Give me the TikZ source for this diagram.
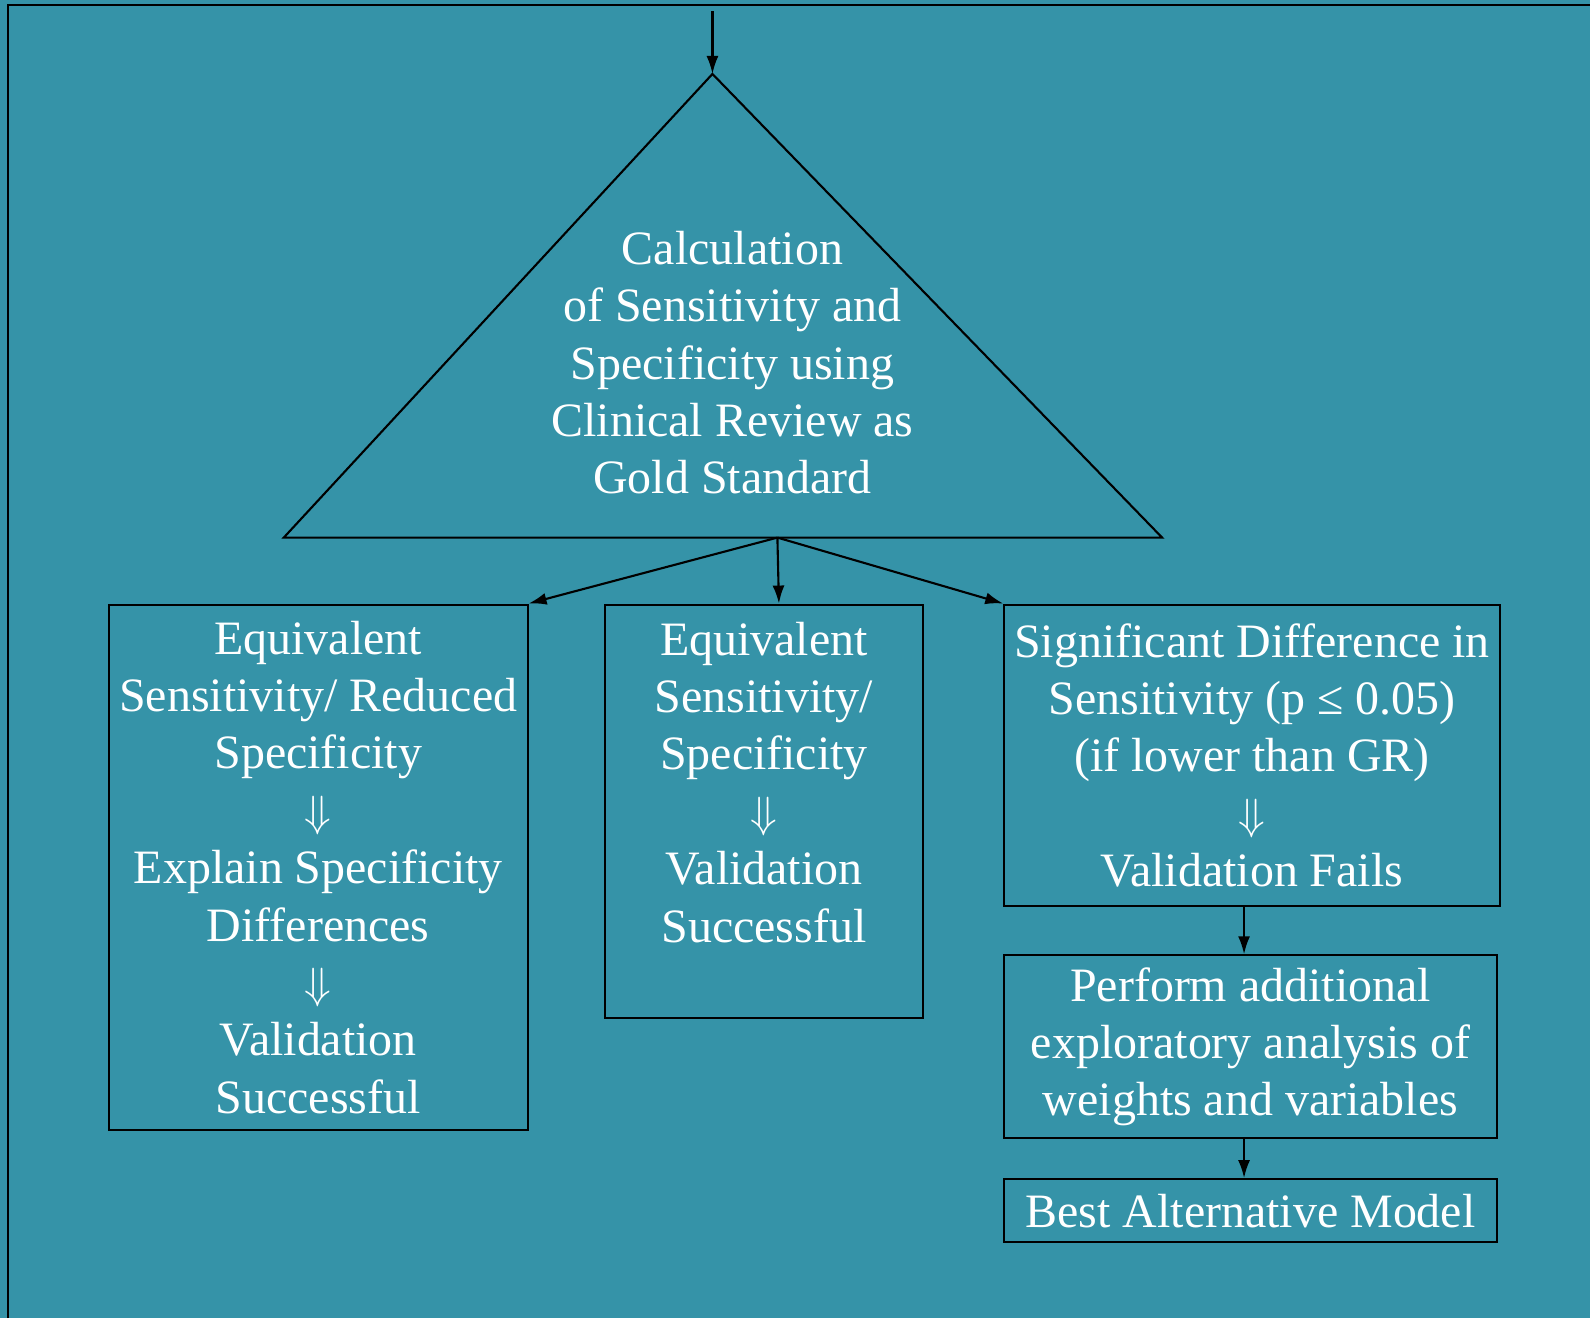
\documentclass[tikz,border=0pt]{standalone}
\usepackage{fontspec}
\setmainfont{Liberation Serif}
\usetikzlibrary{arrows.meta}
\definecolor{tealbg}{RGB}{53,147,168}

\begin{document}
\begin{tikzpicture}[x=0.02cm,y=-0.02cm,
  txt/.style={text=white,align=center,inner sep=0pt,
    font=\fontsize{27.3}{32.7}\selectfont},
  outcome/.style={txt,draw=black,line width=1.2pt,anchor=north west},
  arr/.style={-{Latex[length=0.36cm,width=0.24cm]},line width=1.2pt}]
% background and frame
\fill[tealbg] (0,0) rectangle (1591,1319);
\draw[line width=1.4pt] (8,1319) -- (8,5) -- (1591,5);

% Triangle: calculation step
\coordinate (entry) at (713,11);
\coordinate (apex) at (713,74);
\coordinate (baseL) at (284,538);
\coordinate (baseR) at (1163,538);
\coordinate (split) at (778,538);
\draw[line width=1.2pt,line join=miter] (apex) -- (baseR) -- (baseL) -- cycle;
\node[txt] (calc) at (733,363) {Calculation\\of Sensitivity and\\Specificity using\\Clinical Review as\\Gold Standard};
\draw[arr] (entry) -- (apex);

% Outcome boxes
\node[outcome,minimum width=8.38cm,minimum height=10.52cm] (reduced) at (108,604)
  {Equivalent\\Sensitivity/ Reduced\\Specificity\\$\Downarrow$\\Explain Specificity\\Differences\\$\Downarrow$\\Validation\\Successful};
\node[outcome,minimum width=6.38cm,minimum height=8.28cm] (equiv) at (604,604) {};
\node[txt,anchor=north] (equivtxt) at ([yshift=-0.36cm]equiv.north)
  {Equivalent\\Sensitivity/\\Specificity\\$\Downarrow$\\Validation\\Successful};
\node[outcome,minimum width=9.92cm,minimum height=6.04cm] (fail) at (1004,604)
  {Significant Difference in\\Sensitivity (p ≤ 0.05)\\(if lower than GR)\\$\Downarrow$\\Validation Fails};
\node[outcome,minimum width=9.86cm,minimum height=3.66cm] (explore) at (1004,955)
  {Perform additional\\exploratory analysis of\\weights and variables};
\node[outcome,minimum width=9.86cm,minimum height=1.26cm] (best) at (1004,1179)
  {Best Alternative Model};

% Connectors
\draw[arr] (split) -- (reduced.north east);
\draw[arr] (split) -- ([xshift=0.3cm]equiv.north);
\draw[arr] (split) -- (fail.north west);
\draw[arr] ([xshift=-0.13cm]explore.north |- fail.south) -- ([xshift=-0.13cm]explore.north);
\draw[arr] ([xshift=-0.13cm]explore.south) -- ([xshift=-0.13cm]best.north);
\end{tikzpicture}
\end{document}
